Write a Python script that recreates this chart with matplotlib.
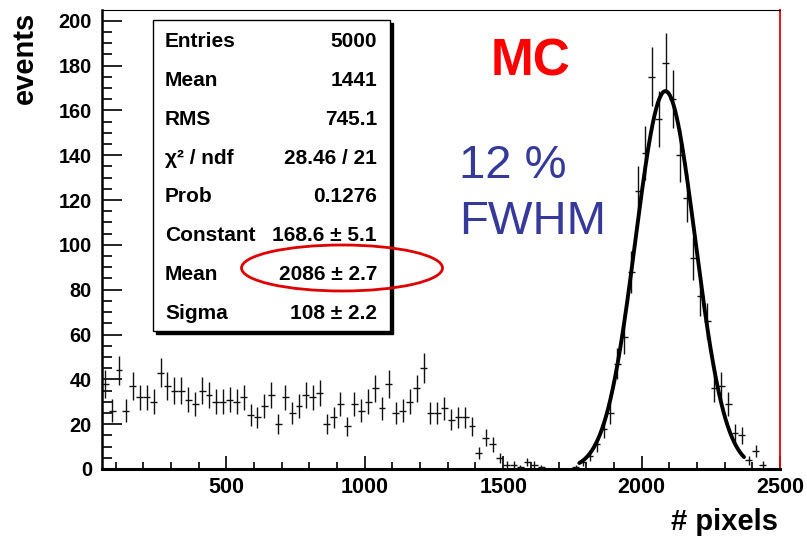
import matplotlib
matplotlib.use('Agg')
import matplotlib.pyplot as plt
import numpy as np
from matplotlib.patches import Rectangle, Ellipse
from matplotlib.ticker import MultipleLocator

plt.rcParams['font.family'] = ['Liberation Sans', 'DejaVu Sans']

W, H = 807, 540

# ---------------- data ----------------
bin_low = 50
bin_width = 25
counts = [
    38, 26, 44, 26, 37, 32, 32, 30, 43, 37, 35, 35, 31, 29, 35, 33, 30, 30, 31, 30,
    32, 24, 23, 28, 33, 20, 32, 25, 28, 33, 32, 34, 20, 23, 29, 19, 29, 26, 30, 36,
    27, 38, 25, 26, 30, 36, 45, 25, 25, 27, 22, 23, 23, 19,
    7, 14, 11, 5, 2, 2, 1, 3, 2, 1,
    0, 0, 0, 0,
    1, 3, 6, 11, 18, 25, 47, 59, 88, 124,
    141, 175, 156, 181, 165, 140, 121, 94, 77, 66,
    36, 37, 29, 16, 15, 4, 8, 2, 0, 0,
]
fit_constant = 168.6
fit_mean = 2086
fit_sigma = 108
fit_range = (1775, 2370)

stats_labels = ["Entries", "Mean", "RMS", "\u03c7\u00b2 / ndf", "Prob", "Constant", "Mean", "Sigma"]
stats_values = ["5000", "1441", "745.1", "28.46 / 21", "0.1276",
                "168.6 \u00b1 5.1", "2086 \u00b1 2.7", "108 \u00b1 2.2"]

x_ticks = [500, 1000, 1500, 2000, 2500]
y_ticks = [0, 20, 40, 60, 80, 100, 120, 140, 160, 180, 200]
x_label = "# pixels"
y_label = "events"

# ---------------- figure ----------------
fig = plt.figure(figsize=(W / 100, H / 100), dpi=100)


def fx(px):
    return px / W


def fy(py):
    return 1 - py / H


ax = fig.add_axes([fx(101.7), fy(469), fx(780) - fx(101.7), fy(10) - fy(469)])

counts_arr = np.array(counts, dtype=float)
centers = bin_low + bin_width * (np.arange(len(counts_arr)) + 0.5)
mask = counts_arr > 0
ax.errorbar(centers[mask], counts_arr[mask], xerr=bin_width / 2,
            yerr=np.sqrt(counts_arr[mask]), fmt='none', ecolor='#111111',
            elinewidth=1.0, capsize=0, zorder=3)

xf = np.linspace(fit_range[0], fit_range[1], 400)
yf = fit_constant * np.exp(-0.5 * ((xf - fit_mean) / fit_sigma) ** 2)
ax.plot(xf, yf, color='black', lw=2.8, zorder=4, solid_capstyle='round')

ax.set_xlim(bin_low, bin_low + bin_width * len(counts_arr))
ax.set_ylim(0, 204.8)

ax.set_xticks(x_ticks)
ax.set_yticks(y_ticks)
ax.xaxis.set_minor_locator(MultipleLocator(100))
ax.yaxis.set_minor_locator(MultipleLocator(5))
ax.tick_params(axis='x', which='major', direction='in', length=9.5, width=1.2, pad=6)
ax.tick_params(axis='x', which='minor', direction='in', length=4.8, width=1.2)
ax.tick_params(axis='y', which='major', direction='in', length=14.4, width=1.2, pad=7)
ax.tick_params(axis='y', which='minor', direction='in', length=7.4, width=1.2)
for lab in ax.get_xticklabels():
    lab.set_fontweight('bold')
    lab.set_fontsize(15.5)
for lab in ax.get_yticklabels():
    lab.set_fontweight('bold')
    lab.set_fontsize(14.3)

ax.spines['left'].set_linewidth(1.8)
ax.spines['bottom'].set_linewidth(2.2)
ax.spines['top'].set_linewidth(0.8)
ax.spines['right'].set_linewidth(1.3)
ax.spines['right'].set_color('#ee0000')

fig.text(fx(778), fy(522), x_label, ha='right', va='center', fontsize=21, fontweight='bold')
fig.text(fx(25), fy(12), y_label, ha='center', va='top', rotation=90, fontsize=21, fontweight='bold')

# annotations
fig.text(fx(530), fy(62), "MC", ha='center', va='center', fontsize=37, fontweight='bold', color='#ff0000')
fig.text(fx(459), fy(166), "12 %", ha='left', va='center', fontsize=34, color='#35399a')
fig.text(fx(459), fy(222), "FWHM", ha='left', va='center', fontsize=34, color='#35399a')

# stats box
bx0, by0, bx1, by1 = 153, 20, 390, 331
shadow = Rectangle((fx(bx0 + 3), fy(by1 + 3)), fx(bx1 - bx0), (by1 - by0) / H,
                   transform=fig.transFigure, facecolor='black', edgecolor='black', zorder=5)
box = Rectangle((fx(bx0), fy(by1)), fx(bx1 - bx0), (by1 - by0) / H,
                transform=fig.transFigure, facecolor='white', edgecolor='black', lw=1.0, zorder=6)
fig.add_artist(shadow)
fig.add_artist(box)
for i, (lab, val) in enumerate(zip(stats_labels, stats_values)):
    yy = 41.7 + i * 38.8
    fig.text(fx(165), fy(yy), lab, ha='left', va='center', fontsize=15, fontweight='bold', zorder=7)
    fig.text(fx(377), fy(yy), val, ha='right', va='center', fontsize=15, fontweight='bold', zorder=7)

ell = Ellipse((fx(342), fy(268)), 201 / W, 46 / H, transform=fig.transFigure,
              fill=False, edgecolor='#e00000', lw=2.0, zorder=8)
fig.add_artist(ell)

fig.savefig('out.png', dpi=100)
